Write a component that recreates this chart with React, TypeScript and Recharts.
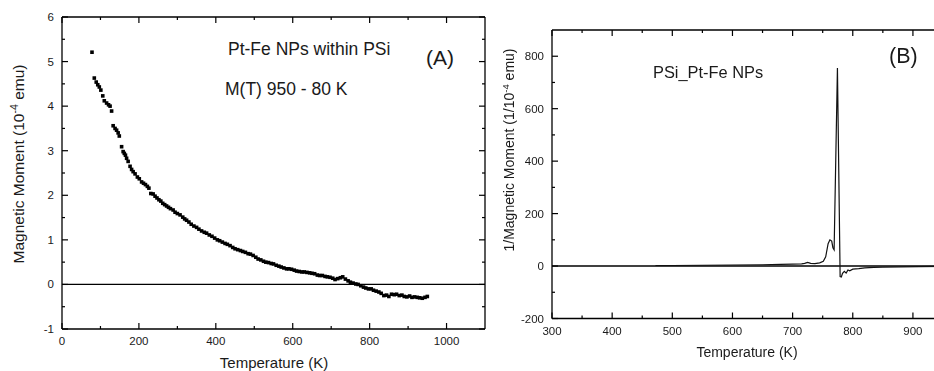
import { ComposedChart, Line, ReferenceLine, Scatter, ScatterChart, XAxis, YAxis } from "recharts";

// Panel A: M(T) cooling curve, 950 -> 80 K
const A_TEMP = [
  78, 84, 89, 93, 97, 101, 106, 110, 116, 121,
  125, 129, 133, 138, 142, 146, 149, 155, 159, 162,
  165, 168, 172, 177, 181, 185, 190, 196, 201, 207,
  212, 217, 222, 226, 231, 237, 242, 247, 252, 257,
  262, 267, 272, 277, 282, 289, 294, 300, 307, 314,
  319, 324, 330, 336, 343, 350, 356, 363, 370, 376,
  383, 390, 397, 404, 410, 417, 424, 430, 437, 444,
  450, 457, 464, 470, 477, 484, 490, 497, 504, 510,
  517, 524, 530, 537, 544, 550, 557, 564, 570, 577,
  584, 590, 597, 604, 610, 617, 624, 630, 637, 644,
  650, 657, 664, 670, 677, 684, 690, 697, 704, 710,
  717, 724, 730, 737, 744, 750, 757, 764, 770, 777,
  784, 790, 797, 804, 810, 817, 824, 830, 837, 844,
  850, 857, 864, 870, 877, 884, 890, 897, 904, 910,
  917, 924, 930, 937, 944, 950,
];
const A_MOMENT = [
  5.21, 4.63, 4.54, 4.48, 4.43, 4.36, 4.23, 4.12, 4.07, 4.03,
  4.0, 3.89, 3.56, 3.5, 3.46, 3.4, 3.33, 3.09, 2.98, 2.94,
  2.9, 2.83, 2.76, 2.65, 2.58, 2.53, 2.48, 2.41, 2.37, 2.3,
  2.27, 2.24, 2.2, 2.16, 2.04, 2.03, 1.98, 1.94, 1.9, 1.87,
  1.82, 1.79, 1.76, 1.73, 1.7, 1.67, 1.62, 1.59, 1.56, 1.51,
  1.47, 1.44, 1.4, 1.35, 1.31, 1.28, 1.24, 1.2, 1.17, 1.15,
  1.11, 1.08, 1.04, 1.0, 0.98, 0.95, 0.92, 0.9, 0.87, 0.83,
  0.8, 0.78, 0.76, 0.74, 0.72, 0.69, 0.68, 0.65, 0.61, 0.57,
  0.55, 0.52, 0.5, 0.49, 0.47, 0.46, 0.43, 0.41, 0.39, 0.37,
  0.35, 0.35, 0.34, 0.32, 0.3, 0.29, 0.28, 0.28, 0.27, 0.26,
  0.25, 0.24, 0.21, 0.2, 0.2, 0.18, 0.17, 0.16, 0.14, 0.11,
  0.13, 0.15, 0.17, 0.12, 0.08, 0.05, 0.03, 0.01, 0.0, -0.03,
  -0.06, -0.08, -0.1, -0.1, -0.13, -0.15, -0.17, -0.2, -0.25, -0.24,
  -0.27, -0.22, -0.23, -0.22, -0.25, -0.24, -0.27, -0.28, -0.26, -0.29,
  -0.28, -0.29, -0.3, -0.31, -0.29, -0.27,
];

// Panel B: inverse moment
const B_TEMP = [
  472, 500, 550, 600, 650, 680, 700, 715, 720, 725,
  730, 737, 745, 751, 755, 759, 762, 765, 767, 769,
  774.5, 779, 781, 783, 786, 789, 792, 795, 800, 810,
  820, 835, 850, 880, 910, 950,
];
const B_INVERSE = [
  2, 2, 3, 4, 5, 6, 7, 8, 10, 14,
  10, 9, 12, 18, 35, 85, 100, 95, 70, 62,
  755, -40, -42, -28, -20, -27, -15, -18, -12, -10,
  -7, -5, -4, -3, -2, -1,
];

const A_X_TICKS = [0, 100, 200, 300, 400, 500, 600, 700, 800, 900, 1000];
const A_Y_TICKS = [-1, -0.5, 0, 0.5, 1, 1.5, 2, 2.5, 3, 3.5, 4, 4.5, 5, 5.5, 6];
const B_X_TICKS = [300, 350, 400, 450, 500, 550, 600, 650, 700, 750, 800, 850, 900];
const B_Y_TICKS = [-200, -100, 0, 100, 200, 300, 400, 500, 600, 700, 800];

const A_X_DOMAIN: [number, number] = [0, 1100];
const A_Y_DOMAIN: [number, number] = [-1, 6];
const B_X_DOMAIN: [number, number] = [300, 950];
const B_Y_DOMAIN: [number, number] = [-200, 900];

const dataA = A_TEMP.map((t, i) => ({ t, m: A_MOMENT[i] }));
const dataB = B_TEMP.map((t, i) => ({ t, v: B_INVERSE[i] }));

// tick marks and the top/right box edges are plotted as extra scatter rows,
// so they go through the same x/y scales as the data
function boxRows(xTicks: number[], yTicks: number[], xDom: [number, number], yDom: [number, number], yKey: string) {
  const row = (t: number, y: number) => ({ t, [yKey]: y });
  return {
    bottom: xTicks.map((t) => row(t, yDom[0])),
    top: xTicks.map((t) => row(t, yDom[1])),
    left: yTicks.map((y) => row(xDom[0], y)),
    right: yTicks.map((y) => row(xDom[1], y)),
    topEdge: [row(xDom[0], yDom[1]), row(xDom[1], yDom[1])],
    rightEdge: [row(xDom[1], yDom[0]), row(xDom[1], yDom[1])],
  };
}
const boxA = boxRows(A_X_TICKS, A_Y_TICKS, A_X_DOMAIN, A_Y_DOMAIN, "m");
const boxB = boxRows(B_X_TICKS, B_Y_TICKS, B_X_DOMAIN, B_Y_DOMAIN, "v");

const FONT = "'Liberation Sans', Arial, sans-serif";
const INK = "#1a1a1a";

type Orient = "bottom" | "top" | "left" | "right";

function tickMark(orient: Orient, isMajor: (v: number) => boolean, key: string) {
  return (p: any) => {
    const v = p.payload[key] as number;
    const len = isMajor(v) ? 6 : 3;
    const w = 1.2;
    const cx = p.cx;
    const cy = p.cy;
    if (orient === "bottom") return <rect x={cx - w / 2} y={cy - len} width={w} height={len} fill="purple" style={{ fill: "#000" }} />;
    if (orient === "top") return <rect x={cx - w / 2} y={cy} width={w} height={len} fill="purple" style={{ fill: "#000" }} />;
    if (orient === "left") return <rect x={cx} y={cy - w / 2} width={len} height={w} fill="purple" style={{ fill: "#000" }} />;
    return <rect x={cx - len} y={cy - w / 2} width={len} height={w} fill="purple" style={{ fill: "#000" }} />;
  };
}

// axes only carry the numbers
function labelTick(orient: "bottom" | "left", isMajor: (v: number) => boolean) {
  return (props: any) => {
    const x = Number(props.x);
    const y = Number(props.y);
    const v = props.payload.value as number;
    if (!isMajor(v)) return <g />;
    return orient === "bottom" ? (
      <text x={x} y={y + 12} textAnchor="middle" dominantBaseline="central" fontSize={11.5} fontFamily={FONT} fill={INK}>
        {v}
      </text>
    ) : (
      <text x={x - 8} y={y} textAnchor="end" dominantBaseline="central" fontSize={11.5} fontFamily={FONT} fill={INK}>
        {v}
      </text>
    );
  };
}

const squareDot = (props: any) => <rect x={props.cx - 1.8} y={props.cy - 1.8} width={3.6} height={3.6} fill="#000" />;
const noShape = () => <g />;
const EDGE = { stroke: "#000", strokeWidth: 1.3 };

const aMajorX = (v: number) => v % 200 === 0;
const aMajorY = (v: number) => Number.isInteger(v);
const bMajorX = (v: number) => v % 100 === 0;
const bMajorY = (v: number) => v % 200 === 0;

const txt = (left: number, top: number, size: number, anchor: "start" | "middle", rotate = false): React.CSSProperties => ({
  position: "absolute",
  left,
  top,
  fontSize: size,
  fontFamily: FONT,
  color: INK,
  lineHeight: 1,
  whiteSpace: "nowrap",
  transform: `translate(${anchor === "middle" ? "-50%" : "0"}, -50%)${rotate ? " rotate(-90deg)" : ""}`,
});

const sup: React.CSSProperties = { fontSize: "0.68em", position: "relative", top: "-0.55em" };

export default function App() {
  return (
    <div style={{ position: "fixed", left: 0, top: 0, width: 934, height: 371, background: "#fff" }}>
      <ScatterChart width={490} height={371} margin={{ top: 17, right: 5, bottom: 41, left: 61 }}>
        <XAxis type="number" dataKey="t" domain={A_X_DOMAIN} ticks={A_X_TICKS} interval={0} height={1} tickSize={0} tickMargin={0} tickLine={false} axisLine={EDGE} tick={labelTick("bottom", aMajorX)} />
        <YAxis type="number" dataKey="m" domain={A_Y_DOMAIN} ticks={A_Y_TICKS} interval={0} width={1} tickSize={0} tickMargin={0} tickLine={false} axisLine={EDGE} tick={labelTick("left", aMajorY)} />
        <ReferenceLine y={0} stroke="#000" strokeWidth={1.2} />
        <Scatter data={boxA.topEdge} line={EDGE} shape={noShape} isAnimationActive={false} />
        <Scatter data={boxA.rightEdge} line={EDGE} shape={noShape} isAnimationActive={false} />
        <Scatter data={boxA.bottom} shape={tickMark("bottom", aMajorX, "t")} isAnimationActive={false} />
        <Scatter data={boxA.top} shape={tickMark("top", aMajorX, "t")} isAnimationActive={false} />
        <Scatter data={boxA.left} shape={tickMark("left", aMajorY, "m")} isAnimationActive={false} />
        <Scatter data={boxA.right} shape={tickMark("right", aMajorY, "m")} isAnimationActive={false} />
        <Scatter data={dataA} shape={squareDot} isAnimationActive={false} />
      </ScatterChart>

      <div style={{ position: "absolute", left: 470, top: 0 }}>
        <ComposedChart width={480} height={371} data={dataB} margin={{ top: 30, right: 7, bottom: 51.5, left: 81 }}>
          <XAxis type="number" dataKey="t" domain={B_X_DOMAIN} ticks={B_X_TICKS} interval={0} height={1} tickSize={0} tickMargin={0} tickLine={false} axisLine={EDGE} tick={labelTick("bottom", bMajorX)} />
          <YAxis type="number" dataKey="v" domain={B_Y_DOMAIN} ticks={B_Y_TICKS} interval={0} width={1} tickSize={0} tickMargin={0} tickLine={false} axisLine={EDGE} tick={labelTick("left", bMajorY)} />
          <ReferenceLine y={0} stroke="#000" strokeWidth={1.5} />
          <Scatter data={boxB.topEdge} dataKey="v" line={EDGE} shape={noShape} isAnimationActive={false} />
          <Scatter data={boxB.rightEdge} dataKey="v" line={EDGE} shape={noShape} isAnimationActive={false} />
          <Scatter data={boxB.bottom} dataKey="v" shape={tickMark("bottom", bMajorX, "t")} isAnimationActive={false} />
          <Scatter data={boxB.top} dataKey="v" shape={tickMark("top", bMajorX, "t")} isAnimationActive={false} />
          <Scatter data={boxB.left} dataKey="v" shape={tickMark("left", bMajorY, "v")} isAnimationActive={false} />
          <Scatter data={boxB.right} dataKey="v" shape={tickMark("right", bMajorY, "v")} isAnimationActive={false} />
          <Line type="linear" dataKey="v" stroke="#111" strokeWidth={1.2} dot={false} isAnimationActive={false} />
        </ComposedChart>
      </div>

      <div style={txt(274, 362, 15, "middle")}>Temperature (K)</div>
      <div style={txt(18.5, 164, 15.5, "middle", true)}>
        Magnetic Moment (10<span style={sup}>-4</span> emu)
      </div>
      <div style={txt(228, 50, 17.5, "start")}>Pt-Fe NPs within PSi</div>
      <div style={txt(225, 90, 17.5, "start")}>M(T) 950 - 80 K</div>
      <div style={txt(426, 57, 21, "start")}>(A)</div>

      <div style={txt(747, 352, 14, "middle")}>Temperature (K)</div>
      <div style={txt(508.5, 150, 14, "middle", true)}>
        1/Magnetic Moment (1/10<span style={sup}>-4</span> emu)
      </div>
      <div style={txt(653, 72, 16.4, "start")}>PSi_Pt-Fe NPs</div>
      <div style={txt(889, 57, 21.5, "start")}>(B)</div>
    </div>
  );
}
